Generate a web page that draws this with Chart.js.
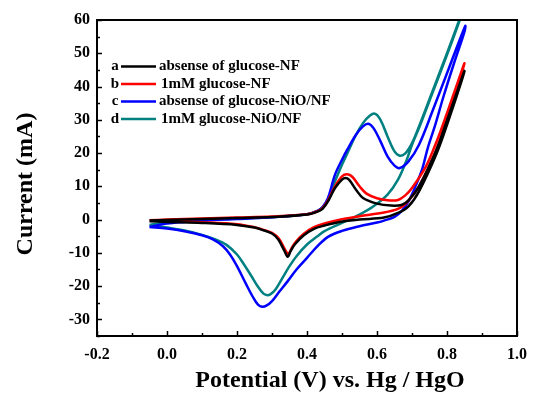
<!DOCTYPE html>
<html><head><meta charset="utf-8">
<script src="https://cdn.jsdelivr.net/npm/chart.js@4/dist/chart.umd.min.js"></script>
<style>html,body{margin:0;padding:0;background:#fff}#wrap{width:536px;height:396px}</style>
</head><body><div id="wrap"><canvas id="c" width="536" height="396"></canvas></div>
<script>
// ---- data (potential V vs. Hg/HgO, current mA) ----
const seriesLabels = ["absense of glucose-NF", "1mM glucose-NF", "absense of glucose-NiO/NF", "1mM glucose-NiO/NF"];
const seriesLetters = ["a", "b", "c", "d"];
const seriesColors = ["#000000", "#ff0000", "#0000ff", "#008080"];

const aV = [-0.05,0.0,0.1,0.2,0.3,0.4,0.43,0.445,0.46,0.48,0.5,0.51,0.52,0.54,0.56,0.6,0.64,0.67,0.69,0.72,0.77,0.8,0.85,
            0.8,0.77,0.72,0.69,0.66,0.62,0.55,0.49,0.45,0.42,0.39,0.365,0.353,0.345,0.335,0.318,0.3,0.27,0.25,0.2,0.1,0.0,-0.05];
const aI = [-0.3,-0.1,0.2,0.5,0.8,1.5,2.4,3.3,5.5,9.5,12,12.5,12,9,6.5,4.8,4.2,4.4,5.8,10,21,29.8,44.7,
            28.5,19.8,8.5,4,2,0.6,0,-0.8,-1.8,-2.8,-4.8,-7.5,-9.5,-11.2,-9.3,-6,-4.2,-3,-2.4,-1.6,-1.0,-0.7,-0.5];

const bV = [-0.05,0.0,0.1,0.2,0.3,0.4,0.43,0.445,0.46,0.48,0.5,0.515,0.53,0.55,0.57,0.6,0.63,0.66,0.68,0.7,0.74,0.77,0.8,0.85,
            0.8,0.76,0.72,0.7,0.68,0.66,0.62,0.55,0.49,0.45,0.42,0.39,0.367,0.355,0.347,0.337,0.32,0.3,0.27,0.25,0.2,0.1,0.0,-0.05];
const bI = [-0.2,0,0.3,0.6,0.9,1.6,2.5,3.5,5.8,10,13,13.6,12.8,10,7.8,6.4,5.8,5.9,7.2,9.5,16,23.4,32,47,
            30,18.5,10,7,4.6,3.2,2.1,1,-0.1,-1.2,-2.3,-4.3,-6.8,-8.8,-10.3,-9,-5.8,-4,-2.9,-2.3,-1.4,-0.8,-0.4,-0.2];

const cV = [-0.05,0.0,0.05,0.1,0.2,0.3,0.4,0.43,0.445,0.46,0.48,0.5,0.515,0.54,0.56,0.575,0.59,0.61,0.63,0.65,0.665,0.69,0.72,0.76,0.8,0.852,
            0.85,0.82,0.79,0.765,0.745,0.73,0.71,0.69,0.67,0.65,0.62,0.6,0.55,0.5,0.46,0.43,0.4,0.37,0.345,0.32,0.3,0.285,0.272,0.26,0.245,0.225,0.2,0.18,0.16,0.13,0.1,0.05,0.0,-0.05];
const cI = [-2.2,-1.2,-0.7,-0.3,0.2,0.7,1.6,2.6,3.8,6.5,13.5,18,21,25.5,28,28.8,27.5,23.5,19,16.2,15.5,17.5,22.5,33,44,58.2,
            56.5,47,37,28,21.5,15.5,10,5.5,2.5,0.8,-0.3,-0.9,-2,-3.4,-5.2,-8,-11.5,-15,-18.5,-21.8,-24.5,-25.8,-26.2,-25.6,-23.2,-19.2,-14,-10.5,-8,-5.9,-4.7,-3.5,-2.7,-2.2];

const dV = [-0.05,0.0,0.1,0.2,0.3,0.4,0.43,0.445,0.46,0.48,0.5,0.52,0.54,0.56,0.58,0.595,0.61,0.63,0.65,0.665,0.68,0.7,0.72,0.76,0.8,0.835,0.85,
            0.835,0.8,0.76,0.72,0.7,0.685,0.66,0.63,0.59,0.55,0.5,0.45,0.43,0.4,0.37,0.35,0.33,0.31,0.295,0.285,0.275,0.26,0.24,0.22,0.2,0.17,0.14,0.1,0.05,0.0,-0.05];
const dI = [-1.6,-0.8,-0.2,0.3,0.7,1.6,2.6,3.8,6,11.5,16.5,21,25.5,29,31.3,31.8,30,25,20.5,19.2,19.8,23,28,39,50,60,64,
            59.5,49.5,38.5,27.5,22.5,18,12,7.5,4,1.5,-1,-3.5,-5,-7.5,-11,-14,-17.5,-21,-22.5,-22.7,-22.2,-20.2,-16.8,-13.5,-10.5,-7.6,-6,-4.6,-3.3,-2.4,-1.6];

const xTickValues = [-0.2,0.0,0.2,0.4,0.6,0.8,1.0];
const yTickValues = [-30,-20,-10,0,10,20,30,40,50,60];
const xTitle = "Potential (V) vs. Hg / HgO";
const yTitle = "Current (mA)";

const pairs = (v, i) => v.map((x, k) => ({x: x, y: i[k]}));
const allV = [aV, bV, cV, dV];
const allI = [aI, bI, cI, dI];

const FONT = "'Liberation Serif', 'Times New Roman', serif";

const deco = {
  id: 'deco',
  afterDraw(chart) {
    const ctx = chart.ctx, ca = chart.chartArea;
    const xs = chart.scales.x, ys = chart.scales.y;
    ctx.save();
    ctx.strokeStyle = '#000';
    ctx.lineWidth = 2;
    ctx.strokeRect(ca.left, ca.top, ca.right - ca.left, ca.bottom - ca.top);
    ctx.lineWidth = 1.5;
    for (let k = 0; k <= 12; k++) {
      const v = -0.2 + k * 0.1;
      const px = Math.round(xs.getPixelForValue(v)) + 0.5;
      const len = (k % 2 === 0) ? 5 : 3;
      ctx.beginPath(); ctx.moveTo(px, ca.bottom); ctx.lineTo(px, ca.bottom - len); ctx.stroke();
    }
    for (let v = -35; v <= 60; v += 5) {
      const py = Math.round(ys.getPixelForValue(v)) + 0.5;
      const len = (v % 10 === 0) ? 5 : 3;
      ctx.beginPath(); ctx.moveTo(ca.left, py); ctx.lineTo(ca.left + len, py); ctx.stroke();
    }
    ctx.fillStyle = '#000';
    ctx.font = "bold 24px " + FONT;
    ctx.textAlign = 'center'; ctx.textBaseline = 'middle';
    ctx.fillText(xTitle, 330, 381);
    ctx.save();
    ctx.translate(26, 184);
    ctx.rotate(-Math.PI / 2);
    ctx.fillText(yTitle, 0, 0);
    ctx.restore();
    ctx.font = "bold 15px " + FONT;
    ctx.textBaseline = 'middle';
    for (let k = 0; k < seriesLabels.length; k++) {
      const y = 66.5 + k * 17.5;
      ctx.textAlign = 'center';
      ctx.fillStyle = '#000';
      ctx.fillText(seriesLetters[k], 115, y);
      ctx.strokeStyle = seriesColors[k];
      ctx.lineWidth = 2.5;
      ctx.beginPath(); ctx.moveTo(121, y); ctx.lineTo(156, y); ctx.stroke();
      ctx.textAlign = 'left';
      ctx.fillText(seriesLabels[k], (k % 2 === 0) ? 159 : 161, y);
    }
    ctx.restore();
  }
};

new Chart(document.getElementById('c'), {
  type: 'scatter',
  data: {
    datasets: seriesLabels.map((lab, k) => ({
      label: lab,
      data: pairs(allV[k], allI[k]),
      showLine: true,
      borderColor: seriesColors[k],
      backgroundColor: seriesColors[k],
      borderWidth: 2.5,
      pointRadius: 0,
      tension: 0.35,
      fill: false
    }))
  },
  options: {
    responsive: false,
    animation: false,
    devicePixelRatio: 1,
    layout: {padding: {left: 0, right: 14, top: 20, bottom: 0}},
    plugins: {legend: {display: false}, tooltip: {enabled: false}},
    scales: {
      x: {
        type: 'linear', min: -0.2, max: 1.0,
        afterBuildTicks: (s) => { s.ticks = xTickValues.map(v => ({value: v})); },
        afterFit: (s) => { s.height = 60; },
        grid: {display: false, drawTicks: false},
        border: {display: false},
        ticks: {
          color: '#000', padding: 9,
          font: {family: FONT, size: 16, weight: 'bold'},
          callback: (v) => Number(v).toFixed(1)
        }
      },
      y: {
        type: 'linear', min: -35, max: 60,
        afterBuildTicks: (s) => { s.ticks = yTickValues.map(v => ({value: v})); },
        afterFit: (s) => { s.width = 97; },
        grid: {display: false, drawTicks: false},
        border: {display: false},
        ticks: {
          color: '#000', padding: 7,
          font: {family: FONT, size: 16, weight: 'bold'},
          callback: (v) => String(v)
        }
      }
    }
  },
  plugins: [deco]
});
</script>
</body></html>
